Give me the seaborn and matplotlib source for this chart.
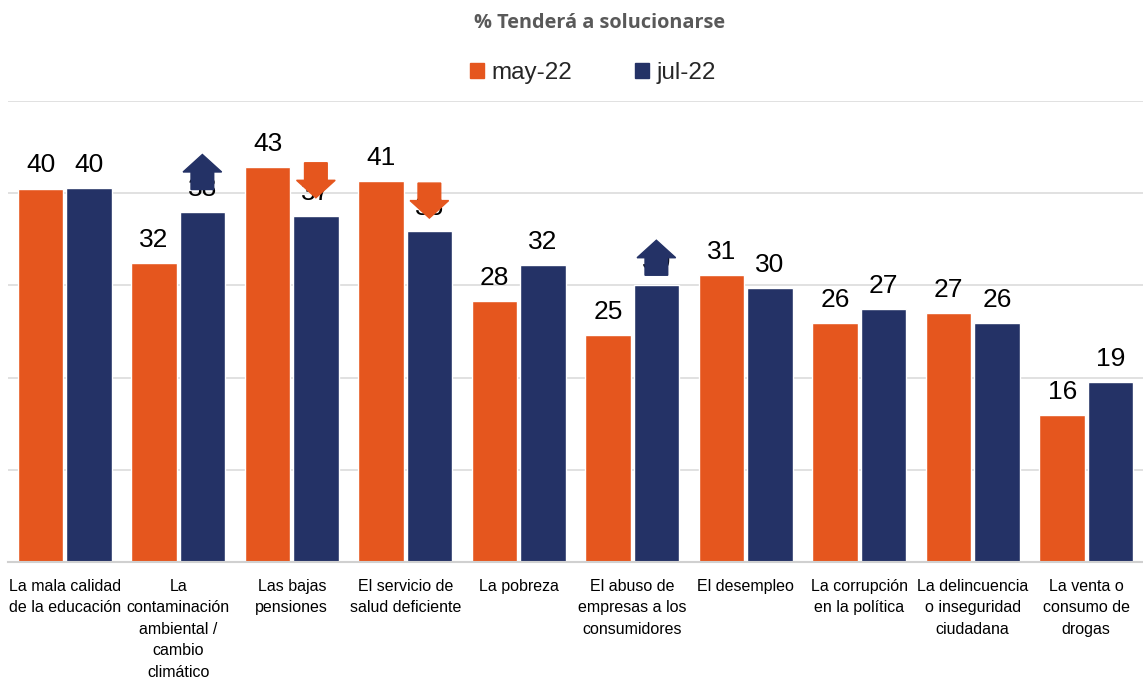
import matplotlib
matplotlib.use("Agg")
import matplotlib.pyplot as plt
import seaborn as sns
import pandas as pd
from matplotlib.patches import FancyArrow, Patch

categories = [
    "La mala calidad\nde la educación",
    "La\ncontaminación\nambiental /\ncambio\nclimático",
    "Las bajas\npensiones",
    "El servicio de\nsalud deficiente",
    "La pobreza",
    "El abuso de\nempresas a los\nconsumidores",
    "El desempleo",
    "La corrupción\nen la política",
    "La delincuencia\no inseguridad\nciudadana",
    "La venta o\nconsumo de\ndrogas",
]
series = ["may-22", "jul-22"]
# bar heights
may22 = [40.5, 32.4, 42.8, 41.3, 28.3, 24.6, 31.1, 25.9, 27.0, 15.9]
jul22 = [40.6, 38.0, 37.5, 35.9, 32.2, 30.0, 29.7, 27.4, 25.9, 19.5]
# printed labels
may22_labels = [40, 32, 43, 41, 28, 25, 31, 26, 27, 16]
jul22_labels = [40, 38, 37, 36, 32, 30, 30, 27, 26, 19]
# change arrows on jul-22 bars: +1 up, -1 down, 0 none
changes = [0, 1, -1, -1, 0, 1, 0, 0, 0, 0]

ORANGE = "#E5561E"
NAVY = "#243266"

# vertical placement (arrow centre above bar top, in axis units) - styling only
arrow_lift = [0, 4.3, 3.9, 3.3, 0, 3.0, 0, 0, 0, 0]

df = pd.DataFrame({
    "cat": categories * 2,
    "serie": [series[0]] * len(categories) + [series[1]] * len(categories),
    "val": may22 + jul22,
})

sns.set_theme(style="white")
plt.rcParams["font.family"] = ["Liberation Sans", "DejaVu Sans"]

fig = plt.figure(figsize=(11.43, 6.79), dpi=100)
ax = fig.add_axes([8 / 1143, 1 - 562 / 679, 1135 / 1143, (562 - 101) / 679])

sns.barplot(data=df, x="cat", y="val", hue="serie", order=categories,
            hue_order=series, palette=[ORANGE, NAVY], width=0.85, gap=0.06,
            ax=ax, legend=False, saturation=1)

ax.set_ylim(0, 50)
ax.set_xlim(-0.5, len(categories) - 0.5)
ax.set_yticks([0, 10, 20, 30, 40, 50])
ax.yaxis.grid(True, color="#DCDCDC", linewidth=1.2)
ax.set_axisbelow(True)
ax.tick_params(axis="y", left=False, labelleft=False)
ax.tick_params(axis="x", bottom=False, pad=6)
ax.set_xlabel("")
ax.set_ylabel("")
for s in ["top", "right", "left"]:
    ax.spines[s].set_visible(False)
ax.spines["bottom"].set_color("#D0D0D0")
ax.spines["bottom"].set_linewidth(1.5)
ax.set_xticks(range(len(categories)))
ax.set_xticklabels(categories, fontsize=11.5, color="black", linespacing=1.55,
                   va="top", ha="center")

# value labels
for cont, labs in zip(ax.containers, [may22_labels, jul22_labels]):
    ax.bar_label(cont, labels=[str(v) for v in labs],
                 padding=8, fontsize=19, color="black")

# change arrows over jul-22 bars (they cover the label, as in the original)
for bar, ch, lift in zip(ax.containers[1], changes, arrow_lift):
    if ch == 0:
        continue
    xc = bar.get_x() + bar.get_width() / 2
    center = bar.get_height() + lift
    length = 3.8
    col = NAVY if ch > 0 else ORANGE
    if ch > 0:
        y0, dy = center - length / 2, length
    else:
        y0, dy = center + length / 2, -length
    ax.add_patch(FancyArrow(xc, y0, 0, dy, width=0.2, head_width=0.34,
                            head_length=1.9, length_includes_head=True,
                            color=col, zorder=5))

fig.text(600 / 1143, 1 - 23 / 679, "% Tenderá a solucionarse", ha="center",
         va="center", fontsize=14.3, fontweight="bold", color="#595959",
         family=["Open Sans", "DejaVu Sans"])

handles = [Patch(color=ORANGE), Patch(color=NAVY)]
fig.legend(handles, series, loc="center", bbox_to_anchor=(593 / 1143, 1 - 73 / 679),
           ncol=2, frameon=False, fontsize=17.5, handlelength=0.58,
           handleheight=0.58, handletextpad=0.3, columnspacing=2.6)

fig.savefig("out.png", dpi=100)
